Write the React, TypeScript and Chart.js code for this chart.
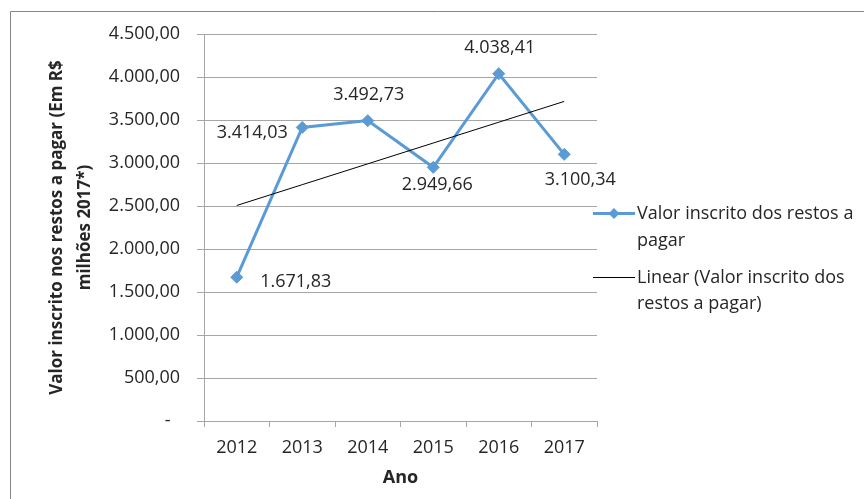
import React, { useEffect, useRef } from 'react';
import { Chart, registerables } from 'chart.js';

Chart.register(...registerables);

// ---- data ----
const years: string[] = ['2012', '2013', '2014', '2015', '2016', '2017'];
const values: number[] = [1671.83, 3414.03, 3492.73, 2949.66, 4038.41, 3100.34];
// Linear trendline (least squares of the series above), as drawn in the reference
const trendValues: number[] = [2505.99, 2748.06, 2990.13, 3232.2, 3474.28, 3716.35];
const yMin = 0;
const yMax = 4500;
const yStep = 500;
const seriesName = 'Valor inscrito dos restos a pagar';
const trendName = 'Linear (Valor inscrito dos restos a pagar)';
const legendSeriesLines: string[] = ['Valor inscrito dos restos a', 'pagar'];
const legendTrendLines: string[] = ['Linear (Valor inscrito dos', 'restos a pagar)'];
const yTitle: string[] = ['Valor inscrito nos restos a pagar (Em R$', 'milhões 2017*)'];
const xTitle = 'Ano';

const FONT = "'Open Sans', sans-serif";
const TEXT = '#262626';
const BLUE = '#5B9BD5';
const GRID = '#a6a6a6';

function fmt(v: number): string {
  if (v === 0) return '-  ';
  const [i, d] = v.toFixed(2).split('.');
  return i.replace(/\B(?=(\d{3})+(?!\d))/g, '.') + ',' + d;
}

// per-point label offsets (dx, dy) relative to the marker
const labelOffsets: [number, number][] = [
  [59, 5],
  [-50, 5],
  [1, -26],
  [4, 18],
  [1, -26],
  [16, 26],
];

const decor = {
  id: 'decor',
  beforeDraw(chart: any) {
    const ctx = chart.ctx;
    ctx.save();
    ctx.fillStyle = '#ffffff';
    ctx.fillRect(0, 0, chart.width, chart.height);
    ctx.strokeStyle = '#878787';
    ctx.lineWidth = 1;
    ctx.beginPath();
    ctx.moveTo(10.5, chart.height);
    ctx.lineTo(10.5, 11.5);
    ctx.lineTo(chart.width, 11.5);
    ctx.stroke();
    ctx.restore();
  },
  afterDatasetsDraw(chart: any) {
    const ctx = chart.ctx;
    ctx.save();
    // data labels for the series (dataset 1)
    const meta = chart.getDatasetMeta(1);
    ctx.font = `18px ${FONT}`;
    ctx.fillStyle = TEXT;
    ctx.textAlign = 'center';
    ctx.textBaseline = 'middle';
    meta.data.forEach((el: any, i: number) => {
      const [dx, dy] = labelOffsets[i];
      ctx.fillText(fmt(values[i]), el.x + dx, el.y + dy);
    });

    // legend
    const lx0 = 593;
    const lx1 = 635;
    const tx = 637;
    // series item
    let y = 213.5;
    ctx.strokeStyle = BLUE;
    ctx.lineWidth = 3;
    ctx.beginPath();
    ctx.moveTo(lx0, y);
    ctx.lineTo(lx1, y);
    ctx.stroke();
    ctx.fillStyle = BLUE;
    ctx.beginPath();
    const cx = (lx0 + lx1) / 2;
    ctx.moveTo(cx, y - 5.5);
    ctx.lineTo(cx + 5.5, y);
    ctx.lineTo(cx, y + 5.5);
    ctx.lineTo(cx - 5.5, y);
    ctx.closePath();
    ctx.fill();
    ctx.fillStyle = TEXT;
    ctx.textAlign = 'left';
    legendSeriesLines.forEach((t, k) => ctx.fillText(t, tx, y + k * 27));
    // trend item
    y = 277.5;
    ctx.strokeStyle = '#000000';
    ctx.lineWidth = 1;
    ctx.beginPath();
    ctx.moveTo(lx0, y);
    ctx.lineTo(lx1, y);
    ctx.stroke();
    legendTrendLines.forEach((t, k) => ctx.fillText(t, tx, y + k * 26.5));
    ctx.restore();
  },
};

export default function App() {
  const ref = useRef<HTMLCanvasElement | null>(null);
  useEffect(() => {
    if (!ref.current) return;
    const chart = new Chart(ref.current, {
      type: 'line',
      data: {
        labels: years,
        datasets: [
          {
            label: trendName,
            data: trendValues,
            borderColor: '#000000',
            borderWidth: 1,
            pointRadius: 0,
            fill: false,
            tension: 0,
            order: 0,
          },
          {
            label: seriesName,
            data: values,
            borderColor: BLUE,
            backgroundColor: BLUE,
            borderWidth: 3,
            pointStyle: 'rectRot',
            pointRadius: 6,
            pointBorderWidth: 1,
            fill: false,
            tension: 0,
            order: 1,
          },
        ],
      },
      options: {
        responsive: false,
        animation: false,
        layout: { padding: { left: 0, top: 34, right: 267, bottom: 0 } },
        plugins: {
          legend: { display: false },
          tooltip: { enabled: false },
          title: { display: false },
        },
        scales: {
          x: {
            offset: true,
            grid: {
              offset: true,
              drawOnChartArea: false,
              drawTicks: true,
              tickLength: 6,
              color: GRID,
            },
            border: { color: GRID, width: 1 },
            ticks: {
              color: TEXT,
              font: { family: FONT, size: 18 },
              padding: 10,
              maxRotation: 0,
            },
            title: {
              display: true,
              text: xTitle,
              color: TEXT,
              font: { family: FONT, size: 18, weight: 'bold' },
              padding: { top: 0, bottom: 10 },
            },
            afterFit: (s: any) => {
              s.height = 78;
            },
          },
          y: {
            min: yMin,
            max: yMax,
            grid: {
              color: GRID,
              tickLength: 7,
            },
            border: { color: GRID, width: 1 },
            ticks: {
              stepSize: yStep,
              color: TEXT,
              font: { family: FONT, size: 18 },
              padding: 17,
              callback: (v: any) => fmt(Number(v)),
            },
            title: {
              display: true,
              text: yTitle,
              color: TEXT,
              font: { family: FONT, size: 17, weight: 'bold', lineHeight: 1.65 },
              padding: { top: 43, bottom: 0 },
            },
            afterFit: (s: any) => {
              s.width = 204;
            },
          },
        },
      },
      plugins: [decor],
    });
    return () => chart.destroy();
  }, []);
  return (
    <div style={{ position: 'absolute', left: 0, top: 0, width: 864, height: 499, background: '#fff' }}>
      <canvas ref={ref} width={864} height={499} style={{ display: 'block' }} />
    </div>
  );
}
